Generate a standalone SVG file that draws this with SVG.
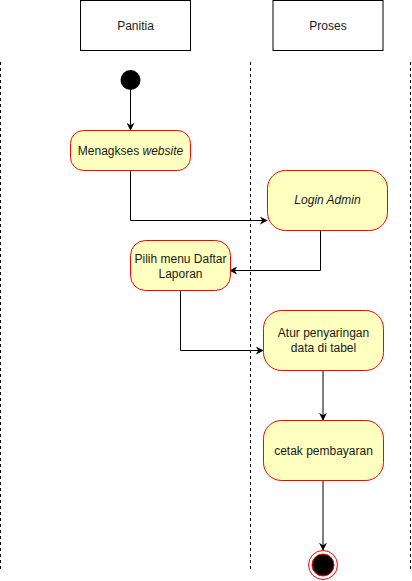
<svg xmlns="http://www.w3.org/2000/svg" width="412" height="581" viewBox="0 0 412 581">
<defs>
<style>
.lane{fill:#fff;stroke:#000;stroke-width:1}
.div{stroke:#000;stroke-width:1;stroke-dasharray:3 3;fill:none}
.act{fill:#ffffc0;stroke:#ff0000;stroke-width:1}
.t{font-family:"Liberation Sans",Arial,sans-serif;font-size:12px;fill:#1a1a1a;text-anchor:middle}
.i{font-style:italic}
.c{fill:none;stroke:#000;stroke-width:1}
.g{fill:none;stroke:#808080;stroke-width:2}
</style>
<marker id="ah" viewBox="0 0 10 10" refX="9" refY="5" markerWidth="8" markerHeight="8" markerUnits="userSpaceOnUse" orient="auto">
<path d="M0,0 L10,5 L0,10 L3,5 Z" fill="#000"/>
</marker>
<marker id="ah2" viewBox="0 0 10 10" refX="9" refY="5" markerWidth="8" markerHeight="8" markerUnits="userSpaceOnUse" orient="auto">
<path d="M0,0 L10,5 L0,10 L3,5 Z" fill="#000"/>
</marker>
</defs>
<g id="lanes">
<line class="div" x1="0.5" y1="62" x2="0.5" y2="571"/>
<line class="div" x1="250.5" y1="62" x2="250.5" y2="571"/>
<line class="div" x1="410.5" y1="62" x2="410.5" y2="571"/>
</g>
<g id="panitia"><rect class="lane" x="80.5" y="0.5" width="110" height="50"/><text class="t" x="135.5" y="29.5">Panitia</text></g>
<g id="proses"><rect class="lane" x="273" y="0.5" width="110" height="50"/><text class="t" x="328" y="29.5">Proses</text></g>
<g id="connectors">
<line class="c" x1="130.5" y1="90" x2="130.5" y2="130" marker-end="url(#ah)"/>
<polyline class="c" points="130.5,170 130.5,220.5 267,220.5" marker-end="url(#ah)"/>
<polyline class="c" points="320.5,230 320.5,270.5 230,270.5" marker-end="url(#ah)"/>
<polyline class="c" points="180.5,290 180.5,350.5 263,350.5" marker-end="url(#ah)"/>
<line class="g" x1="323" y1="370" x2="323" y2="420" marker-end="url(#ah2)"/>
<line class="g" x1="323" y1="480" x2="323" y2="550" marker-end="url(#ah2)"/>
</g>
<g id="start"><circle cx="130.5" cy="80" r="10" fill="#000"/></g>
<g id="menagkses"><rect class="act" x="70.5" y="130.5" width="120" height="40" rx="13"/><text class="t" x="130.5" y="154.5">Menagkses <tspan class="i">website</tspan></text></g>
<g id="login"><rect class="act" x="267.5" y="170.5" width="120" height="60" rx="18"/><text class="t i" x="327.5" y="204">Login Admin</text></g>
<g id="pilih"><rect class="act" x="130.5" y="240.5" width="100" height="50" rx="15"/><text class="t" x="180.5" y="262.5">Pilih menu Daftar</text><text class="t" x="180.5" y="277.5">Laporan</text></g>
<g id="atur"><rect class="act" x="263.5" y="310.5" width="120" height="60" rx="18"/><text class="t" x="323.5" y="337">Atur penyaringan</text><text class="t" x="323.5" y="352">data di tabel</text></g>
<g id="cetak"><rect class="act" x="263.5" y="420.5" width="120" height="60" rx="18"/><text class="t" x="323.5" y="454.5">cetak pembayaran</text></g>
<g id="end"><circle cx="323" cy="565" r="14.5" fill="#fff" stroke="#ff0000" stroke-width="1"/><circle cx="323" cy="565" r="11" fill="#000" stroke="#ff0000" stroke-width="1"/></g>
</svg>
